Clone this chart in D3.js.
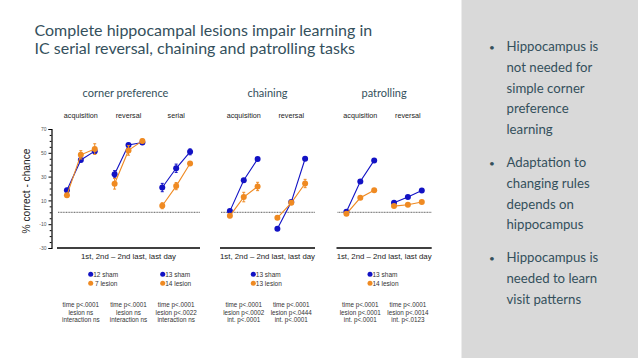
<!DOCTYPE html>
<html><head><meta charset="utf-8">
<script src="https://cdn.jsdelivr.net/npm/d3@7"></script>
<style>body{margin:0;background:#fff}svg{display:block}</style>
</head><body>
<script>
// ---------- data ----------
const panelTitles = ["corner preference", "chaining", "patrolling"];
const groupPanel = [0, 0, 0, 1, 1, 2, 2];
const groupNames = ["acquisition", "reversal", "serial", "acquisition", "reversal", "acquisition", "reversal"];
const timePoints = ["1st", "2nd", "last"];
const shamValues = [[18.6, 44, 51.4], [32, 56.5, 58.7], [20.8, 37, 50.8], [1, 27, 44.7], [-13.9, 8.6, 45], [0.4, 25.9, 43.6], [8, 12.8, 18.3]];
const shamErr = [[1.5, 1.5, 2], [3, 1.5, 1], [3.5, 3.5, 2.5], [1, 1, 1], [1, 1, 1], [1, 1, 1], [1, 1, 1]];
const lesionValues = [[14.4, 48.3, 53.1], [24, 52, 60], [5.5, 22, 41], [-3, 12.8, 21.7], [-4.6, 8, 24.2], [-1.3, 12.2, 18.6], [5.2, 6.3, 8.6]];
const lesionErr = [[1.5, 3.5, 4.5], [4.5, 4, 1.5], [2.5, 3, 1.5], [1.5, 4, 3.5], [1, 1.5, 3.5], [1, 1, 1], [1, 1, 1]];
const yTicks = [-30, -10, 10, 30, 50, 70];
const xAxisLabel = "1st, 2nd \u2013 2nd last, last day";
const legendGroups = [0, 2, 3, 5];
const legendSham = ["12 sham", "13 sham", "13 sham", "13 sham"];
const legendLesion = [" 7 lesion", "14 lesion", "13 lesion", "14 lesion"];
const statsLine1 = ["time p<.0001", "time p<.0001", "time p<.0001", "time p<.0001", "time p<.0001", "time p<.0001", "time p<.0001"];
const statsLine2 = ["lesion ns", "lesion ns", "lesion p<.0022", "lesion p<.0002", "lesion p<.0444", "lesion p<.0001", "lesion p<.0014"];
const statsLine3 = ["interaction ns", "interaction ns", "interaction ns", "int. p<.0001", "int. p<.0001", "int. p<.0001", "int. p<.0123"];
const title = ["Complete hippocampal lesions impair learning in", "IC serial reversal, chaining and patrolling tasks"];
const bullets = [
  ["Hippocampus is", "not needed for", "simple corner", "preference", "learning"],
  ["Adaptation to", "changing rules", "depends on", "hippocampus"],
  ["Hippocampus is", "needed to learn", "visit patterns"]
];

// ---------- layout ----------
const W = 638, H = 358;
const blue = "#1212c4", orange = "#ef8a22", slate = "#34505c";
const panelRange = [[57, 200], [220, 315], [336.5, 431.7]];
const svg = d3.select("body").append("svg").attr("width", W).attr("height", H);
svg.append("rect").attr("width", W).attr("height", H).attr("fill", "#fff");
svg.append("rect").attr("x", 461.5).attr("y", 0).attr("width", W - 461.5).attr("height", H).attr("fill", "#d9d9d9");

const y = d3.scaleLinear().domain([-30, 70]).range([248, 129]);

// title
svg.append("g").selectAll("text").data(title).join("text")
  .attr("x", 34.5).attr("y", (d, i) => 36 + i * 18)
  .attr("font-family", "Lato, 'Open Sans', sans-serif").attr("font-size", 16)
  .attr("fill", slate).text(d => d);

// bullets
let by = 51;
bullets.forEach((lines, bi) => {
  svg.append("text").attr("x", 489).attr("y", by).attr("font-family", "Lato, sans-serif")
    .attr("font-size", 10).attr("fill", slate).text("\u2022");
  lines.forEach((l, li) => {
    svg.append("text").attr("x", 506.5).attr("y", by + li * 20.8)
      .attr("font-family", "Lato, sans-serif").attr("font-size", 13.2).attr("fill", slate).text(l);
  });
  by += lines.length * 20.8 + 12;
});

const font = "'Liberation Sans', Arial, sans-serif";

// y-axis (left panel only)
const yAxis = d3.axisLeft(y).tickValues(yTicks).tickSize(3).tickFormat(d => String(d));
const ya = svg.append("g").attr("transform", "translate(51.5,0)").call(yAxis);
ya.select(".domain").attr("stroke", "#000").attr("stroke-width", 1.2);
ya.selectAll(".tick text").attr("font-size", 5).attr("fill", "#555").attr("font-family", font).attr("x", -5);
const yMinor = d3.axisLeft(y).tickValues(d3.range(-30, 71, 5).filter(v => !yTicks.includes(v))).tickSize(1.8).tickFormat("");
const ym = svg.append("g").attr("transform", "translate(51.5,0)").call(yMinor);
ym.select(".domain").remove();
svg.append("text").attr("transform", "translate(30,191) rotate(-90)").attr("text-anchor", "middle")
  .attr("font-family", font).attr("font-size", 10.2).attr("fill", "#222").text("% correct - chance");

// panels
panelTitles.forEach((t, p) => {
  const [x0, x1] = panelRange[p];
  const gIdx = groupPanel.map((g, i) => g === p ? i : -1).filter(i => i >= 0);
  const band = d3.scaleBand().domain(gIdx).range([x0, x1]).padding(0);
  const inner = d3.scalePoint().domain(timePoints).range([0, band.bandwidth()]).padding(0.714);
  const g = svg.append("g");
  g.append("text").attr("x", (x0 + x1) / 2 - (p === 0 ? 3 : 0)).attr("y", 97)
    .attr("text-anchor", "middle").attr("font-family", "Lato, sans-serif").attr("font-size", 11)
    .attr("fill", slate).text(t);
  // zero line
  g.append("line").attr("x1", x0 + 1).attr("x2", x1).attr("y1", y(0)).attr("y2", y(0))
    .attr("stroke", "#333").attr("stroke-width", 0.8).attr("stroke-dasharray", "1,0.6");
  // bottom axis
  g.append("line").attr("x1", x0).attr("x2", x1).attr("y1", y(-30)).attr("y2", y(-30))
    .attr("stroke", "#000").attr("stroke-width", 1.4);
  g.append("text").attr("x", (x0 + x1) / 2).attr("y", 258.5).attr("text-anchor", "middle")
    .attr("font-family", font).attr("font-size", 7.8).attr("fill", "#222").text(xAxisLabel);

  gIdx.forEach(gi => {
    const cx = band(gi);
    g.append("text").attr("x", cx + band.bandwidth() / 2).attr("y", 117.5).attr("text-anchor", "middle")
      .attr("font-family", font).attr("font-size", 7.2).attr("fill", "#222").text(groupNames[gi]);
    [[shamValues, shamErr, blue], [lesionValues, lesionErr, orange]].forEach(([vals, errs, col]) => {
      const pts = timePoints.map((tp, k) => ({x: cx + inner(tp), v: vals[gi][k], e: errs[gi][k]}));
      g.append("path").datum(pts).attr("fill", "none").attr("stroke", col).attr("stroke-width", 1.1)
        .attr("d", d3.line().x(d => d.x).y(d => y(d.v)));
      const eb = g.append("g").selectAll("g").data(pts).join("g");
      eb.append("line").attr("x1", d => d.x).attr("x2", d => d.x).attr("y1", d => y(d.v - d.e)).attr("y2", d => y(d.v + d.e))
        .attr("stroke", col).attr("stroke-width", 1);
      [-1, 1].forEach(s => eb.append("line").attr("x1", d => d.x - 1.5).attr("x2", d => d.x + 1.5)
        .attr("y1", d => y(d.v + s * d.e)).attr("y2", d => y(d.v + s * d.e)).attr("stroke", col).attr("stroke-width", 1));
      g.append("g").selectAll("circle").data(pts).join("circle")
        .attr("cx", d => d.x).attr("cy", d => y(d.v)).attr("r", 3).attr("fill", col);
    });
    // stats
    [statsLine1, statsLine2, statsLine3].forEach((arr, li) => {
      g.append("text").attr("x", cx + band.bandwidth() / 2).attr("y", 307 + li * 7.7).attr("text-anchor", "middle")
        .attr("font-family", font).attr("font-size", 6.3).attr("fill", "#333").text(arr[gi]);
    });
  });
});

// legends
const legX = [90.7, 162.7, 253.3, 370];
legendGroups.forEach((gi, i) => {
  const lx = legX[i];
  [[legendSham[i], blue, 274.3], [legendLesion[i], orange, 283.3]].forEach(([txt, col, ly]) => {
    svg.append("circle").attr("cx", lx).attr("cy", ly).attr("r", 2.5).attr("fill", col);
    svg.append("text").attr("x", lx + 2.5).attr("y", ly + 2.2).attr("font-family", font).attr("font-size", 6.5)
      .attr("fill", "#333").attr("xml:space", "preserve").style("white-space", "pre").text(txt);
  });
});
</script>
</body></html>
